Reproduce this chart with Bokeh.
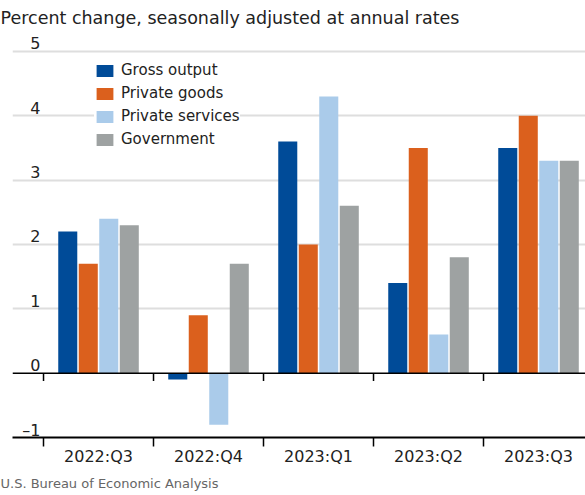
from bokeh.plotting import figure
from bokeh.models import (Range1d, FixedTicker, Legend, LegendItem,
                          LabelSet, ColumnDataSource, Title, Span)
from bokeh.core.properties import value
from bokeh.transform import dodge
from bokeh.embed import file_html
from bokeh.resources import INLINE

quarters = ["2022:Q3", "2022:Q4", "2023:Q1", "2023:Q2", "2023:Q3"]
gross_output = [2.2, -0.1, 3.6, 1.4, 3.5]
private_goods = [1.7, 0.9, 2.0, 3.5, 4.0]
private_services = [2.4, -0.8, 4.3, 0.6, 3.3]
government = [2.3, 1.7, 2.6, 1.8, 3.3]
series_names = ["Gross output", "Private goods", "Private services", "Government"]
colors = ["#004B98", "#DB601D", "#AACBEA", "#9EA2A2"]
y_ticks = [-1, 0, 1, 2, 3, 4, 5]
y_tick_labels = ["\u20131", "0", "1", "2", "3", "4", "5"]

FONT = "DejaVu Sans"
xpos = list(range(len(quarters)))
bounds = [i - 0.5 for i in range(len(quarters) + 1)]

src = ColumnDataSource(dict(x=xpos, g=gross_output, pg=private_goods,
                            ps=private_services, gv=government))

x_start = -0.782
x_end = x_start + 573 / 110
y_start, y_end = -1, 5.294
p = figure(width=585, height=495, output_backend="svg", toolbar_location=None,
           x_range=Range1d(x_start, x_end), y_range=Range1d(y_start, y_end),
           min_border_left=12, min_border_right=0, min_border_top=30, min_border_bottom=58)
p.outline_line_color = None
p.background_fill_color = "white"
p.border_fill_color = "white"

step = 0.1864
width = 0.173
cols = ["g", "pg", "ps", "gv"]
renderers = []
for k, (c, col) in enumerate(zip(cols, colors)):
    r = p.vbar(x=dodge("x", (k - 1.5) * step, range=p.x_range), top=c, bottom=0,
               width=width, source=src, fill_color=col, line_color=None)
    renderers.append(r)

# grid
p.xgrid.visible = False
p.yaxis.visible = False
p.ygrid.ticker = FixedTicker(ticks=[1, 2, 3, 4, 5])
p.ygrid.grid_line_color = "#DEDEDE"
p.ygrid.grid_line_width = 2

# bottom axis
xa = p.xaxis[0]
xa.ticker = FixedTicker(ticks=xpos, minor_ticks=bounds)
xa.major_label_overrides = {i: q for i, q in enumerate(quarters)}
xa.major_tick_line_color = None
xa.major_tick_out = 0
xa.major_tick_in = 0
xa.minor_tick_out = 9
xa.minor_tick_in = 0
xa.minor_tick_line_color = "black"
xa.minor_tick_line_width = 1.5
xa.axis_line_color = "black"
xa.axis_line_width = 2
xa.major_label_text_font = FONT
xa.major_label_text_font_size = "16px"
xa.major_label_text_color = "#222222"
xa.major_label_standoff = 0

# zero line and its ticks
p.add_layout(Span(location=0, dimension="width", line_color="black", line_width=1.5))
tick_len = 8 * (y_end - y_start) / 407
p.segment(x0=bounds, y0=[0] * len(bounds), x1=bounds, y1=[-tick_len] * len(bounds),
          line_color="black", line_width=1.5)

# y tick labels
lab_src = ColumnDataSource(dict(x=[x_start] * len(y_ticks), y=y_ticks, t=y_tick_labels))
p.add_layout(LabelSet(x="x", y="y", text="t", source=lab_src, x_offset=28, y_offset=2,
                      text_align="right", text_baseline="alphabetic", text_font=value(FONT),
                      text_font_size=value("16px"), text_color="#222222"))

# legend
items = [LegendItem(label=n, renderers=[r]) for n, r in zip(series_names, renderers)]
leg = Legend(items=items, location=(82, 289), padding=6, margin=0,
             border_line_color=None, background_fill_color="white", background_fill_alpha=1,
             glyph_width=21, glyph_height=15, label_height=15, spacing=5, label_standoff=6,
             label_text_font=FONT, label_text_font_size="15px", label_text_color="#222222")
p.add_layout(leg)

# title
p.title.text = "Percent change, seasonally adjusted at annual rates"
p.title.align = "left"
p.title.offset = -12
p.title.text_font = FONT
p.title.text_font_size = "17.5px"
p.title.text_font_style = "normal"
p.title.text_color = "#222222"

p.add_layout(Title(text="U.S. Bureau of Economic Analysis", align="left", offset=-12,
                   text_font=FONT, text_font_size="13px", text_font_style="normal",
                   text_color="#666666"), "below")

open("out.html", "w").write(file_html(p, INLINE))
